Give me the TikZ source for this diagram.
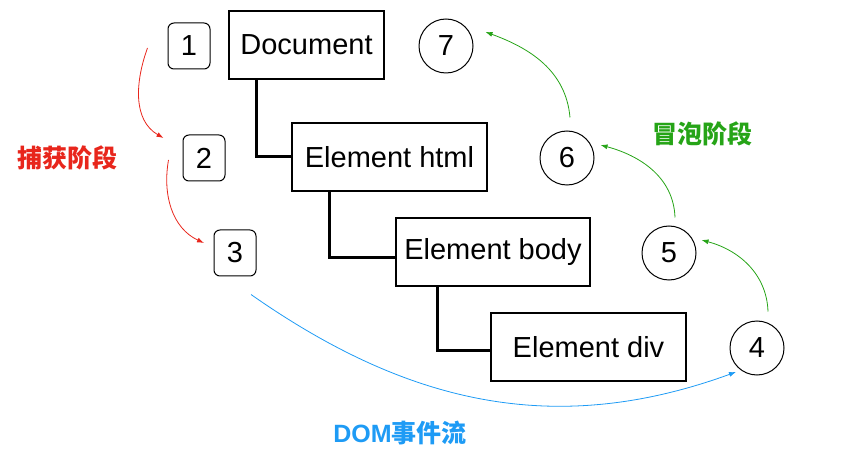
\documentclass[tikz,border=0pt]{standalone}
\usepackage{fontspec}
\setmainfont{Liberation Sans}
\newfontfamily\cjk{Noto Sans CJK SC}
\usetikzlibrary{arrows.meta}
\definecolor{capred}{HTML}{E8261C}
\definecolor{bubgreen}{HTML}{26A417}
\definecolor{flowblue}{HTML}{1E9BF5}
\begin{document}
\begin{tikzpicture}[x=1pt,y=1pt,
    every node/.style={font=\fontsize{29}{33}\selectfont},
    elem/.style={draw,line width=1.2pt,minimum height=68pt,inner sep=0pt},
    capt/.style={draw,rounded corners=6pt,line width=1pt,minimum width=42pt,minimum height=46pt,inner sep=0pt},
    bubl/.style={draw,circle,line width=1pt,minimum size=54pt,inner sep=0pt},
    tree/.style={line width=3pt},
    flow/.style={-{Latex[length=7pt,width=5pt]},line width=0.8pt},
    phase/.style={font=\fontsize{25}{30}\selectfont\bfseries}]
  \useasboundingbox (0,0) rectangle (841,453);
  \draw
    (306.5,408) node[elem,minimum width=155pt] (d){Document}
    (389.5,296) node[elem,minimum width=195pt] (html){Element html}
    (493,201) node[elem,minimum width=194pt] (body){Element body}
    (588.5,106) node[elem,minimum width=195pt] (div){Element div}
    (189,407) node[capt] (1){1}
    (204,295) node[capt] (2){2}
    (235,200) node[capt] (3){3}
    (757,105) node[bubl] (4){4}
    (669,200) node[bubl] (5){5}
    (567,295) node[bubl] (6){6}
    (446,407) node[bubl] (7){7};
  \node[phase,text=capred] (cap) at (67,295) {\cjk 捕获阶段};
  \node[phase,text=bubgreen] (bub) at (702,319) {\cjk 冒泡阶段};
  \node[phase,text=flowblue] (flw) at (400,20) {DOM\cjk 事件流};
  \begin{scope}[tree]
    \draw ([xshift=-50.5pt]d.south) |- (html);
    \draw ([xshift=-60.5pt]html.south) |- ([yshift=-6pt]body.west);
    \draw ([xshift=-56pt]body.south) |- ([yshift=-3pt]div.west);
  \end{scope}
  \begin{scope}[flow,capred]
    \draw ([shift={(-20,-2)}]1.west) to[out=250,in=150] ([shift={(-19,20)}]2.west);
    \draw ([shift={(-14,-2)}]2.west) to[out=260,in=155] ([shift={(-9.5,10)}]3.west);
  \end{scope}
  \begin{scope}[flow,bubgreen]
    \draw ([shift={(11,9)}]4.north) to[out=92,in=-15] ([shift={(5,13)}]5.east);
    \draw ([shift={(6,8)}]5.north) to[out=92,in=-15] ([shift={(6,13)}]6.east);
    \draw ([shift={(3,13)}]6.north) to[out=95,in=-20] ([shift={(12,14)}]7.east);
  \end{scope}
  \draw[flow,flowblue] ([shift={(16,-18)}]3.south) to[out=-35,in=200] ([shift={(-21,-24)}]4.center);
\end{tikzpicture}
\end{document}
